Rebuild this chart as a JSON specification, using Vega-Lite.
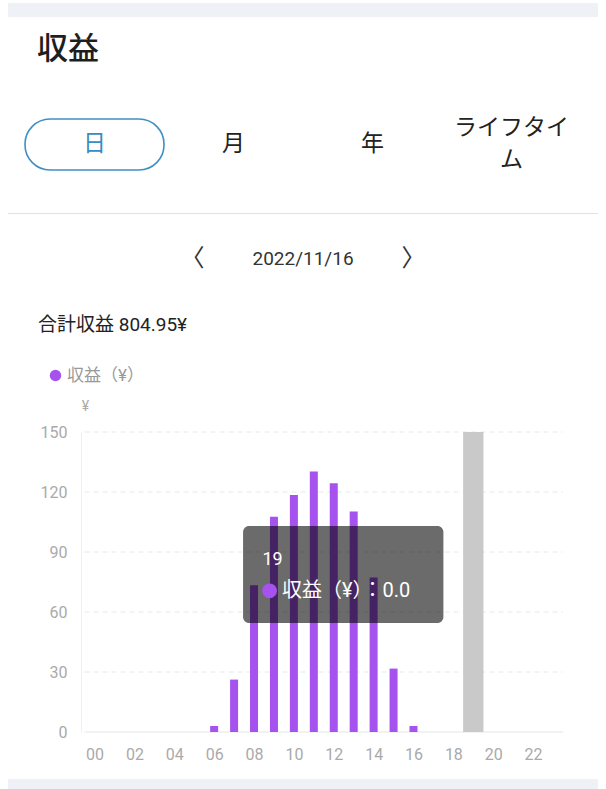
{
  "$schema": "https://vega.github.io/schema/vega-lite/v6.json",
  "background": "white",
  "padding": 0,
  "spacing": 0,
  "resolve": {"scale": {"color": "independent"}, "legend": {"color": "independent"}},
  "config": {
    "view": {"stroke": null},
    "font": "Roboto, 'Noto Sans CJK JP', sans-serif"
  },
  "vconcat": [
    {
      "width": 606,
      "height": 34,
      "data": {"values": [{"band": "top"}]},
      "mark": {"type": "rect", "color": "#eef2f6"},
      "encoding": {
        "x": {"field": "band", "type": "nominal", "axis": null, "scale": {"type": "band", "paddingInner": 0, "paddingOuter": 0.0136}},
        "y": {"field": "band", "type": "nominal", "axis": null, "scale": {"type": "band", "paddingInner": 0, "paddingOuter": 0.714, "align": 0.15}}
      }
    },
    {
      "width": 606,
      "height": 94,
      "title": {"text": "収益", "anchor": "start", "frame": "group", "dx": 37, "fontSize": 31, "fontWeight": 500, "color": "#1e1e1e", "offset": 51},
      "data": {"values": [
        {"tab": "日", "label": "日", "on": true},
        {"tab": "月", "label": "月", "on": false},
        {"tab": "年", "label": "年", "on": false},
        {"tab": "ライフタイム", "label": "ライフタイ\nム", "on": false}
      ]},
      "encoding": {
        "x": {"field": "tab", "type": "nominal", "sort": null, "axis": null, "scale": {"type": "band", "paddingInner": 0, "paddingOuter": 0.18}},
        "y": {"datum": "tabs", "type": "nominal", "axis": null, "scale": {"type": "band", "paddingInner": 0, "paddingOuter": 0.4216, "align": 0}}
      },
      "layer": [
        {
          "transform": [{"filter": "datum.on"}],
          "mark": {"type": "rect", "fill": "white", "stroke": "#3f8fc4", "strokeWidth": 1.6, "cornerRadius": 25}
        },
        {
          "transform": [{"filter": "indexof(datum.label, '\\n') < 0"}],
          "mark": {"type": "text", "fontSize": 23},
          "encoding": {
            "text": {"field": "label"},
            "color": {"condition": {"test": "datum.on", "value": "#3a8cc2"}, "value": "#222222"}
          }
        },
        {
          "transform": [{"filter": "indexof(datum.label, '\\n') >= 0"}],
          "mark": {"type": "text", "fontSize": 23, "lineBreak": "\n", "lineHeight": 32, "dy": -16, "color": "#222222"},
          "encoding": {
            "text": {"field": "label"}
          }
        }
      ]
    },
    {
      "width": 606,
      "height": 1,
      "data": {"values": [{"band": "divider"}]},
      "mark": {"type": "rect", "color": "#e2e2e2"},
      "encoding": {
        "x": {"field": "band", "type": "nominal", "axis": null, "scale": {"type": "band", "paddingInner": 0, "paddingOuter": 0.0136}}
      }
    },
    {
      "width": 606,
      "height": 102,
      "data": {"values": [
        {"slot": "prev", "label": "〈"},
        {"slot": "date", "label": "2022/11/16"},
        {"slot": "next", "label": "〉"}
      ]},
      "mark": {"type": "text", "color": "#333333"},
      "encoding": {
        "x": {"field": "slot", "type": "nominal", "axis": null, "scale": {"type": "band", "domain": ["before", "prev", "date", "next", "after"], "paddingInner": 0, "paddingOuter": 0.242}},
        "y": {"datum": "nav", "type": "nominal", "axis": null, "scale": {"type": "band", "paddingInner": 0, "paddingOuter": 0.5, "align": 0.38}},
        "text": {"field": "label"},
        "size": {"condition": {"test": "datum.slot != 'date'", "value": 24}, "value": 19}
      }
    },
    {
      "width": 568,
      "height": 300,
      "title": {"text": "合計収益 804.95¥", "anchor": "start", "frame": "group", "dx": 38, "fontSize": 19, "fontWeight": "normal", "color": "#222222", "offset": 32},
      "data": {"values": [
        {"hour": 0, "value": 0}, {"hour": 1, "value": 0}, {"hour": 2, "value": 0}, {"hour": 3, "value": 0},
        {"hour": 4, "value": 0}, {"hour": 5, "value": 0}, {"hour": 6, "value": 3.0}, {"hour": 7, "value": 26.2},
        {"hour": 8, "value": 73.4}, {"hour": 9, "value": 107.6}, {"hour": 10, "value": 118.5}, {"hour": 11, "value": 130.2},
        {"hour": 12, "value": 124.4}, {"hour": 13, "value": 110.3}, {"hour": 14, "value": 77.2}, {"hour": 15, "value": 31.7},
        {"hour": 16, "value": 3.0}, {"hour": 17, "value": 0}, {"hour": 18, "value": 0}, {"hour": 19, "value": 0},
        {"hour": 20, "value": 0}, {"hour": 21, "value": 0}, {"hour": 22, "value": 0}, {"hour": 23, "value": 0}
      ]},
      "layer": [
        {
          "data": {"values": [{"tick": 0}, {"tick": 30}, {"tick": 60}, {"tick": 90}, {"tick": 120}, {"tick": 150}]},
          "mark": {"type": "rule", "strokeWidth": 1},
          "encoding": {
            "y": {"field": "tick", "type": "quantitative"},
            "x": {"datum": -0.5},
            "x2": {"datum": 23.5},
            "color": {"condition": {"test": "datum.tick == 0", "value": "#e2e2e2"}, "value": "#e4e8ee"},
            "strokeDash": {"condition": {"test": "datum.tick == 0", "value": [1, 0]}, "value": [5, 4]}
          }
        },
        {
          "mark": {"type": "bar", "orient": "vertical", "width": 8},
          "encoding": {
            "x": {
              "field": "hour", "type": "quantitative",
              "scale": {"domain": [-4.492, 23.5], "nice": false, "zero": false},
              "axis": {
                "title": null, "values": [0, 2, 4, 6, 8, 10, 12, 14, 16, 18, 20, 22],
                "labelExpr": "datum.value < 10 ? '0' + datum.value : '' + datum.value",
                "grid": false, "ticks": false, "domain": false,
                "labelColor": "#aaaaaa", "labelFontSize": 16, "labelPadding": 14
              }
            },
            "y": {
              "field": "value", "type": "quantitative",
              "scale": {"domain": [0, 150], "nice": false},
              "axis": {
                "title": "¥", "titleAngle": 0, "titleX": 4, "titleY": -26, "titleAlign": "center", "titleBaseline": "middle",
                "titleFontSize": 14, "titleFontWeight": "normal", "titleColor": "#aaaaaa",
                "values": [0, 30, 60, 90, 120, 150],
                "grid": false, "ticks": false, "domain": true, "domainColor": "#eef0f2",
                "offset": -81,
                "labelColor": "#aaaaaa", "labelFontSize": 16, "labelPadding": 14
              }
            },
            "color": {
              "datum": "収益（¥）", "type": "nominal",
              "scale": {"range": ["#a552ee"]},
              "legend": {
                "orient": "none", "legendX": 47, "legendY": -65, "title": null, "padding": 0,
                "symbolType": "circle", "symbolSize": 130, "symbolStrokeWidth": 0,
                "labelFontSize": 17, "labelColor": "#999999", "labelOffset": 3
              }
            }
          }
        },
        {
          "transform": [{"filter": "datum.hour == 19"}],
          "mark": {"type": "bar", "color": "#c9c9c9", "width": 20.3},
          "encoding": {
            "x": {"field": "hour", "type": "quantitative"},
            "y": {"datum": 150},
            "y2": {"datum": 0}
          }
        },
        {
          "data": {"values": [{"hour": 7.45, "hour_end": 17.5, "value": 103, "value_end": 54.5}]},
          "mark": {"type": "rect", "color": "#000000", "opacity": 0.58, "cornerRadius": 6},
          "encoding": {
            "x": {"field": "hour", "type": "quantitative"},
            "x2": {"field": "hour_end"},
            "y": {"field": "value", "type": "quantitative"},
            "y2": {"field": "value_end"}
          }
        },
        {
          "data": {"values": [{"hour": 8.78, "value": 70.6}]},
          "mark": {"type": "point", "filled": true, "opacity": 1, "size": 220, "color": "#a552ee"},
          "encoding": {
            "x": {"field": "hour", "type": "quantitative"},
            "y": {"field": "value", "type": "quantitative"}
          }
        },
        {
          "data": {"values": [
            {"hour": 8.42, "value": 86, "label": "19"},
            {"hour": 9.4, "value": 70.6, "label": "収益（¥）：0.0"}
          ]},
          "mark": {"type": "text", "align": "left", "baseline": "middle", "color": "white"},
          "encoding": {
            "x": {"field": "hour", "type": "quantitative"},
            "y": {"field": "value", "type": "quantitative"},
            "text": {"field": "label"},
            "size": {"condition": {"test": "datum.label == '19'", "value": 18}, "value": 20}
          }
        }
      ]
    },
    {
      "width": 606,
      "height": 28,
      "data": {"values": [{"band": "bottom"}]},
      "mark": {"type": "rect", "color": "#eef2f6"},
      "encoding": {
        "x": {"field": "band", "type": "nominal", "axis": null, "scale": {"type": "band", "paddingInner": 0, "paddingOuter": 0.0136}},
        "y": {"field": "band", "type": "nominal", "axis": null, "scale": {"type": "band", "paddingInner": 0, "paddingOuter": 0.773, "align": 1}}
      }
    }
  ]
}
